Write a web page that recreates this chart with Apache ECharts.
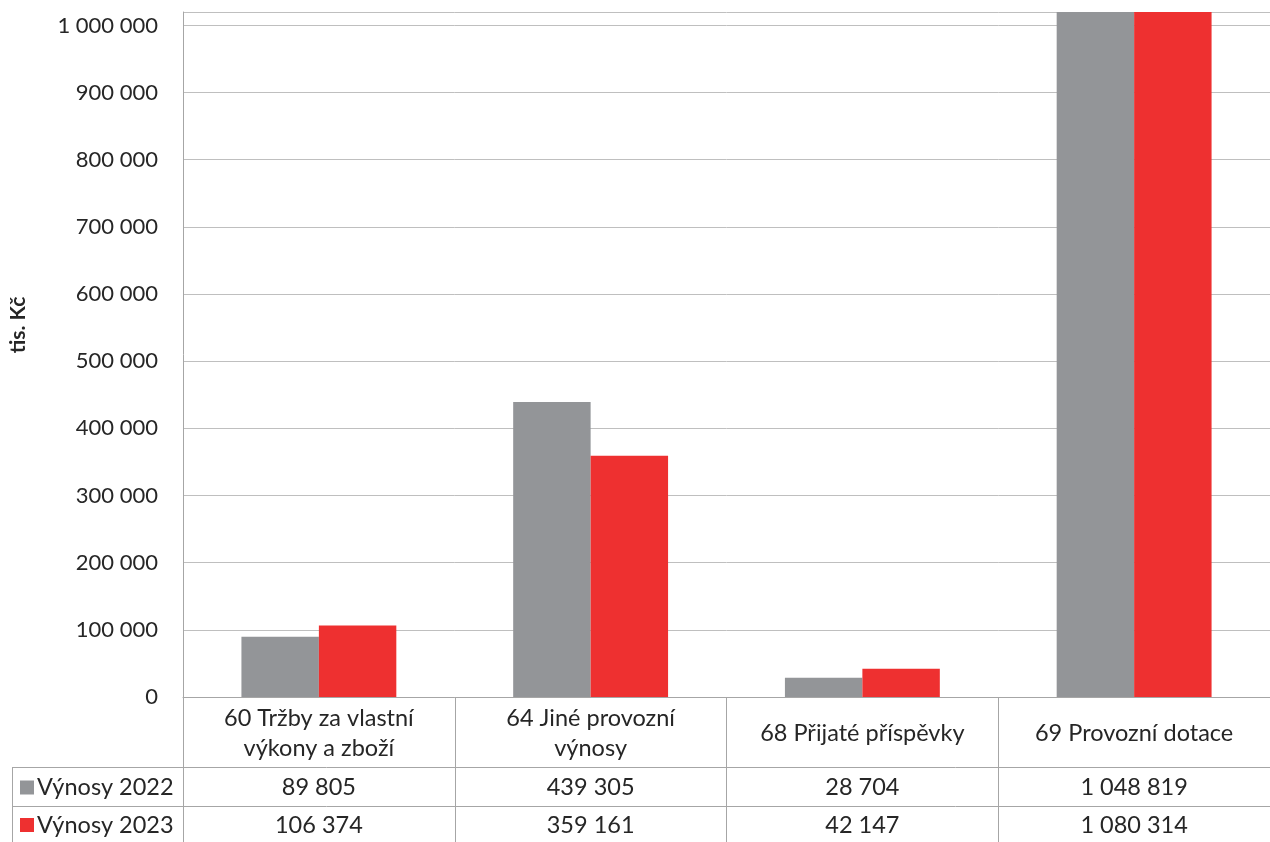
<!DOCTYPE html>
<html><head><meta charset="utf-8">
<script src="https://cdn.jsdelivr.net/npm/echarts@6/dist/echarts.min.js"></script>
<style>html,body{margin:0;padding:0;background:#fff}#c{width:1270px;height:842px}</style>
</head><body><div id="c"></div>
<script>
const categories = ['60 Tržby za vlastní výkony a zboží', '64 Jiné provozní výnosy', '68 Přijaté příspěvky', '69 Provozní dotace'];
const seriesNames = ['Výnosy 2022', 'Výnosy 2023'];
const values2022 = [89805, 439305, 28704, 1048819];
const values2023 = [106374, 359161, 42147, 1080314];
const yTicks = [0, 100000, 200000, 300000, 400000, 500000, 600000, 700000, 800000, 900000, 1000000];
const yAxisTitle = 'tis. Kč';

const colors = ['#939598', '#EE3030'];
const FONT = 'Lato';
const lineCol = '#A6A6A6';
const fmt = v => String(Math.round(v)).replace(/\B(?=(\d{3})+(?!\d))/g, ' ');
// greedy word wrap for category labels
const wrap = (s, max) => {
  const words = s.split(' '); const lines = []; let cur = '';
  words.forEach(w => { const t = cur ? cur + ' ' + w : w; if (t.length > max && cur) { lines.push(cur); cur = w; } else cur = t; });
  if (cur) lines.push(cur);
  return lines.join('\n');
};

const chart = echarts.init(document.getElementById('c'), null, {renderer: 'canvas'});
const option = {
  animation: false,
  textStyle: {fontFamily: FONT},
  grid: {left: 183, right: 0, top: 12, bottom: 145, containLabel: false, outerBoundsMode: 'none'},
  xAxis: {
    type: 'category', data: categories,
    axisLine: {lineStyle: {color: lineCol, width: 1}},
    axisTick: {show: true, length: 145, interval: 0, lineStyle: {color: lineCol}},
    axisLabel: {interval: 0, color: '#262626', fontSize: 23.5, fontFamily: FONT, lineHeight: 30, verticalAlign: 'middle', margin: 36, align: 'center', hideOverlap: false,
      formatter: v => wrap(v, 20)}
  },
  yAxis: {
    type: 'value', min: 0, max: 1020000, interval: 100000,
    axisLine: {show: true, lineStyle: {color: lineCol}},
    axisTick: {show: false},
    axisLabel: {color: '#262626', fontSize: 22, fontFamily: FONT, margin: 25, showMaxLabel: false,
      formatter: v => yTicks.indexOf(v) >= 0 ? fmt(v) : ''},
    splitLine: {lineStyle: {color: '#BFBFBF', width: 1}}
  },
  series: [
    {name: seriesNames[0], type: 'bar', data: values2022, itemStyle: {color: colors[0]}, barGap: '0%', barCategoryGap: '43%'},
    {name: seriesNames[1], type: 'bar', data: values2023, itemStyle: {color: colors[1]}, barGap: '0%', barCategoryGap: '43%'}
  ]
};
chart.setOption(option);

// Axis title and data table below the axis
const rowTops = [767, 806];
const rowBottoms = [806, 842];
const leftX = 12, rightX = 1270;
const g = [];
g.push({type: 'text', x: 18, y: 325, rotation: Math.PI / 2, style: {text: yAxisTitle, align: 'center', verticalAlign: 'middle', font: 'bold 21px ' + FONT, fill: '#262626'}, silent: true});
rowTops.forEach(y => g.push({type: 'line', shape: {x1: leftX, y1: y + 0.5, x2: rightX, y2: y + 0.5}, style: {stroke: lineCol, lineWidth: 1}, silent: true}));
g.push({type: 'line', shape: {x1: leftX + 0.5, y1: 767, x2: leftX + 0.5, y2: 842}, style: {stroke: lineCol, lineWidth: 1}, silent: true});
const rows = [values2022, values2023];
rows.forEach((vals, r) => {
  const cy = (rowTops[r] + rowBottoms[r]) / 2 + 1;
  g.push({type: 'rect', shape: {x: 20, y: cy - 7, width: 14, height: 14}, style: {fill: colors[r]}, silent: true});
  g.push({type: 'text', style: {text: seriesNames[r], x: 37, y: cy, verticalAlign: 'middle', align: 'left', font: '23.5px ' + FONT, fill: '#262626'}, silent: true});
  vals.forEach((v, i) => {
    const px = chart.convertToPixel({xAxisIndex: 0}, categories[i]);
    g.push({type: 'text', style: {text: fmt(v), x: px, y: cy, verticalAlign: 'middle', align: 'center', font: '23.5px ' + FONT, fill: '#262626'}, silent: true});
  });
});
chart.setOption({graphic: {elements: g}});
</script></body></html>
